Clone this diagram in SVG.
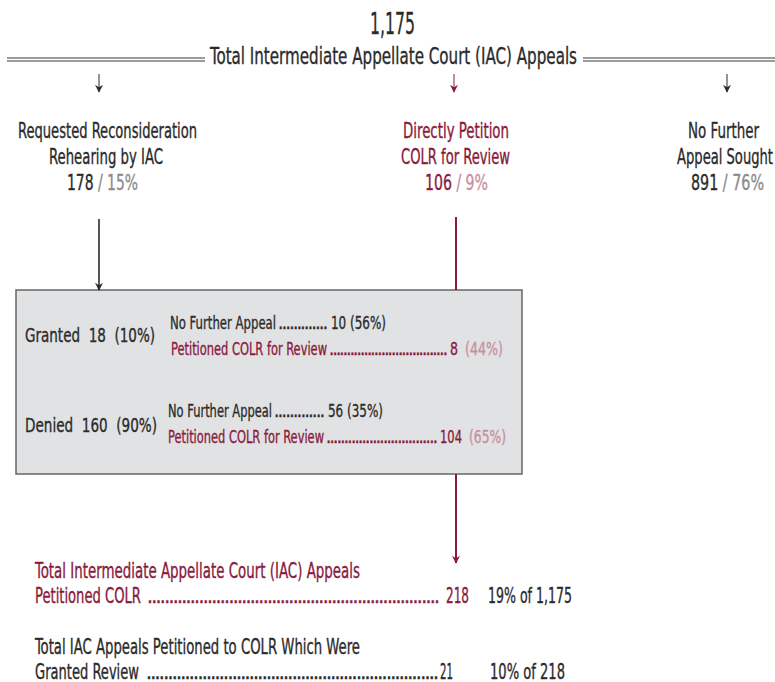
<svg xmlns="http://www.w3.org/2000/svg" width="775" height="682" viewBox="0 0 775 682">
<defs>
<style>
text{font-family:"DejaVu Sans Condensed","Liberation Sans Narrow","Liberation Sans",sans-serif;font-stretch:condensed;stroke-width:0.35px}
.dk{fill:#2b2b2b;stroke:#2b2b2b}
.rd{fill:#8a1a3c;stroke:#8a1a3c}
.pk{fill:#c8909f;stroke:#c8909f}
.gy{fill:#8c8c8c;stroke:#8c8c8c}
.t19{font-size:21px}
.t17{font-size:18.5px}
.t18{font-size:20px}
.end{text-anchor:end}
.dbl{stroke:#7a7a7a;stroke-width:1.4;fill:none}
</style>
<marker id="ah" viewBox="0 0 10 10" refX="9" refY="5" markerWidth="8" markerHeight="8" markerUnits="userSpaceOnUse" orient="auto">
<path d="M0,0 L10,5 L0,10 L3,5 z" fill="#2b2b2b"/>
</marker>
<marker id="ahr" viewBox="0 0 10 10" refX="9" refY="5" markerWidth="8" markerHeight="8" markerUnits="userSpaceOnUse" orient="auto">
<path d="M0,0 L10,5 L0,10 L3,5 z" fill="#8a1a3c"/>
</marker>
</defs>
<rect width="775" height="682" fill="#ffffff"/>

<g id="header">
<text class="dk" x="370" y="34" font-size="31" textLength="45" lengthAdjust="spacingAndGlyphs">1,175</text>
<text class="dk" x="210" y="64" font-size="23" textLength="367" lengthAdjust="spacingAndGlyphs">Total Intermediate Appellate Court (IAC) Appeals</text>
<line class="dbl" x1="7" y1="58" x2="205" y2="58"/>
<line class="dbl" x1="7" y1="61" x2="205" y2="61"/>
<line class="dbl" x1="583" y1="58" x2="775" y2="58"/>
<line class="dbl" x1="583" y1="61" x2="775" y2="61"/>
</g>

<g id="node-reconsideration">
<text class="dk t19" x="18" y="138" textLength="179" lengthAdjust="spacingAndGlyphs">Requested Reconsideration</text>
<text class="dk t19" x="49" y="164" textLength="114" lengthAdjust="spacingAndGlyphs">Rehearing by IAC</text>
<text class="t19" x="67" y="190" textLength="71" lengthAdjust="spacingAndGlyphs"><tspan class="dk">178</tspan><tspan class="gy"> / 15%</tspan></text>
</g>

<g id="node-direct">
<text class="rd t19" x="403" y="138" textLength="106" lengthAdjust="spacingAndGlyphs">Directly Petition</text>
<text class="rd t19" x="401" y="164" textLength="109" lengthAdjust="spacingAndGlyphs">COLR for Review</text>
<text class="t19" x="425" y="190" textLength="63" lengthAdjust="spacingAndGlyphs"><tspan class="rd">106</tspan><tspan class="pk"> / 9%</tspan></text>
</g>

<g id="node-nofurther">
<text class="dk t19 end" x="759" y="138" textLength="71" lengthAdjust="spacingAndGlyphs">No Further</text>
<text class="dk t19 end" x="773" y="164" textLength="96" lengthAdjust="spacingAndGlyphs">Appeal Sought</text>
<text class="t19 end" x="764" y="190" textLength="73" lengthAdjust="spacingAndGlyphs"><tspan class="dk">891</tspan><tspan class="gy"> / 76%</tspan></text>
</g>

<g id="node-box">
<rect x="16" y="290" width="506" height="184" fill="#e1e2e4" stroke="#666666" stroke-width="1.5"/>
<text class="dk t18" x="25" y="342" textLength="130" lengthAdjust="spacingAndGlyphs" xml:space="preserve">Granted  18  (10%)</text>
<text class="dk t17" x="170" y="329" textLength="106" lengthAdjust="spacingAndGlyphs">No Further Appeal</text>
<text class="dk t17" x="278" y="329" textLength="50" lengthAdjust="spacing">.............</text>
<text class="dk t17" x="331" y="329" textLength="55" lengthAdjust="spacingAndGlyphs">10 (56%)</text>
<text class="rd t17" x="171" y="355" textLength="156" lengthAdjust="spacingAndGlyphs">Petitioned COLR for Review</text>
<text class="rd t17" x="329" y="355" textLength="119" lengthAdjust="spacing">..................................</text>
<text class="rd t17" x="450" y="355" textLength="8" lengthAdjust="spacingAndGlyphs">8</text>
<text class="pk t17" x="465" y="355" textLength="38" lengthAdjust="spacingAndGlyphs">(44%)</text>

<text class="dk t18" x="25" y="432" textLength="132" lengthAdjust="spacingAndGlyphs" xml:space="preserve">Denied  160  (90%)</text>
<text class="dk t17" x="168" y="417" textLength="104" lengthAdjust="spacingAndGlyphs">No Further Appeal</text>
<text class="dk t17" x="274" y="417" textLength="51" lengthAdjust="spacing">.............</text>
<text class="dk t17" x="328" y="417" textLength="55" lengthAdjust="spacingAndGlyphs">56 (35%)</text>
<text class="rd t17" x="168" y="443" textLength="156" lengthAdjust="spacingAndGlyphs">Petitioned COLR for Review</text>
<text class="rd t17" x="326" y="443" textLength="112" lengthAdjust="spacing">...............................</text>
<text class="rd t17" x="440" y="443" textLength="22" lengthAdjust="spacingAndGlyphs">104</text>
<text class="pk t17" x="469" y="443" textLength="37" lengthAdjust="spacingAndGlyphs">(65%)</text>
</g>

<g id="summary-petitioned">
<text class="rd t19" x="35" y="578" textLength="325" lengthAdjust="spacingAndGlyphs">Total Intermediate Appellate Court (IAC) Appeals</text>
<text class="rd t19" x="35" y="603" textLength="106" lengthAdjust="spacingAndGlyphs">Petitioned COLR</text>
<text class="rd t19" x="147" y="603" textLength="293" lengthAdjust="spacing">....................................................................</text>
<text class="rd t19" x="446" y="603" textLength="23" lengthAdjust="spacingAndGlyphs">218</text>
<text class="dk t19" x="488" y="603" textLength="84" lengthAdjust="spacingAndGlyphs">19% of 1,175</text>
</g>

<g id="summary-granted">
<text class="dk t19" x="35" y="654" textLength="325" lengthAdjust="spacingAndGlyphs">Total IAC Appeals Petitioned to COLR Which Were</text>
<text class="dk t19" x="35" y="679" textLength="104" lengthAdjust="spacingAndGlyphs">Granted Review</text>
<text class="dk t19" x="146" y="679" textLength="293" lengthAdjust="spacing">....................................................................</text>
<text class="dk t19" x="440" y="679" textLength="13" lengthAdjust="spacingAndGlyphs">21</text>
<text class="dk t19" x="490" y="679" textLength="75" lengthAdjust="spacingAndGlyphs">10% of 218</text>
</g>

<g id="connectors">
<line x1="99" y1="74" x2="99" y2="92" stroke="#2b2b2b" stroke-width="1" marker-end="url(#ah)"/>
<line x1="454" y1="74" x2="454" y2="92" stroke="#8a1a3c" stroke-width="1" marker-end="url(#ahr)"/>
<line x1="727" y1="74" x2="727" y2="92" stroke="#2b2b2b" stroke-width="1" marker-end="url(#ah)"/>
<line x1="99" y1="219" x2="99" y2="290" stroke="#2b2b2b" stroke-width="1.6" marker-end="url(#ah)"/>
<line x1="456" y1="217" x2="456" y2="290" stroke="#8a1a3c" stroke-width="2"/>
<line x1="456" y1="474" x2="456" y2="563" stroke="#8a1a3c" stroke-width="2" marker-end="url(#ahr)"/>
</g>
</svg>
